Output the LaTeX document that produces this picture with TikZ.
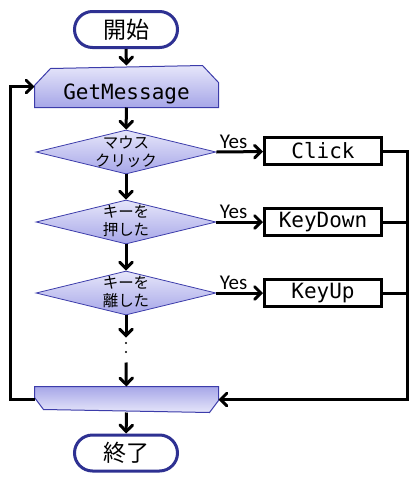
\documentclass[tikz,border=0pt]{standalone}
\usepackage{fontspec}
\setmonofont{DejaVu Sans Mono}
\newfontfamily\jpfont{Noto Sans CJK JP}
\newfontfamily\yesfont{Carlito}
\usepackage{tikz}
\usetikzlibrary{shapes.geometric}
\usetikzlibrary{arrows}
\usetikzlibrary{backgrounds}
\definecolor{termblue}{RGB}{46,49,146}
\definecolor{shapeblue}{RGB}{60,60,170}
\definecolor{lightlav}{RGB}{230,230,250}
\definecolor{darklav}{RGB}{166,166,232}

\begin{document}
\begin{tikzpicture}[x=1pt,y=-1pt,>=angle 90,line width=3pt,
    term node/.style={rectangle,rounded corners=18pt,draw=termblue,fill=white,
      minimum width=103pt,minimum height=36pt,inner sep=0pt,
      font=\jpfont\fontsize{23}{26}\selectfont},
    limit node/.style={rectangle,draw=none,minimum width=181pt,inner sep=0pt},
    limit shade/.style={draw=shapeblue,line width=1pt},
    mono text/.style={inner sep=0pt,font=\ttfamily\fontsize{21}{24}\selectfont},
    decision node/.style={diamond,draw=shapeblue,line width=0.8pt,
      top color=lightlav,bottom color=darklav,
      minimum width=180pt,minimum height=44pt,inner sep=0pt},
    jp text/.style={align=center,inner sep=0pt,
      font=\jpfont\fontsize{15.5}{17.5}\selectfont},
    event node/.style={rectangle,draw=black,fill=white,
      minimum width=117pt,minimum height=27pt,inner sep=0pt,
      font=\ttfamily\fontsize{21}{24}\selectfont},
    yes/.style={inner sep=2pt,font=\yesfont\fontsize{21}{24}\selectfont}]
  \useasboundingbox (0,0) rectangle (420,480);

  % Nodes
  \node[term node] (start) at (126,29.5) {開始};
  \node[limit node,minimum height=39pt,
        label={[mono text,yshift=-7pt]center:GetMessage}] (getmsg) at (126.5,86.5) {};
  \node[decision node,label={[jp text]center:マウス\\クリック}] (mouse) at (126,152) {};
  \node[decision node,label={[jp text,yshift=1pt]center:キーを\\押した}] (keydown) at (126,222) {};
  \node[decision node,label={[jp text,yshift=1pt]center:キーを\\離した}] (keyup) at (126,293) {};
  \node[inner sep=0pt,minimum height=22pt] (gap) at (126,350) {};
  \node[limit node,minimum height=23pt] (lend) at (126.5,399.5) {};
  \node[term node] (finish) at (126,453) {終了};

  \node[event node] (click) at (323,151) {Click};
  \node[event node] (kdown) at (323,222) {KeyDown};
  \node[event node] (kup) at (323,293) {KeyUp};

  % Loop limits
  \begin{scope}[on background layer]
    \path[limit shade,top color=lightlav,bottom color=darklav]
      (getmsg.south west) -- ++(0,-22) -- ++(16,-17)
      -- ([xshift=-16pt]getmsg.north east) -- ++(16,17)
      -- (getmsg.south east) -- cycle;
    \path[limit shade,top color=darklav,bottom color=lightlav]
      (lend.north west) -- ++(0,11) -- ++(9,12)
      -- ([xshift=-9pt]lend.south east) -- ++(9,-12)
      -- (lend.north east) -- cycle;
  \end{scope}
  \fill (gap.center) ++(0,-7) circle (1.2pt) ++(0,9) circle (1.2pt);

  % Edges
  \draw[->] (start) -- (getmsg);
  \draw[->] (getmsg) -- (mouse);
  \draw[->] (mouse) -- (keydown);
  \draw[->] (keydown) -- (keyup);
  \draw[->] (keyup) -- (gap.north);
  \draw[->] (gap.south) -- (lend);
  \draw[->] (lend) -- (finish);

  \draw[->] (mouse.east) -- node[yes,pos=0,anchor=south west] {Yes} (click);
  \draw[->] (keydown.east) -- node[yes,pos=0,anchor=south west] {Yes} (kdown);
  \draw[->] (keyup.east) -- node[yes,pos=0,anchor=south west] {Yes} (kup);

  \draw (kdown.east) -- ++(24,0);
  \draw (kup.east) -- ++(24,0);
  \draw[->] (click.east) -- ++(24,0) |- (lend.east);
  \draw[->] (lend.west) -- ++(-24,0) |- (getmsg.west);
\end{tikzpicture}
\end{document}
